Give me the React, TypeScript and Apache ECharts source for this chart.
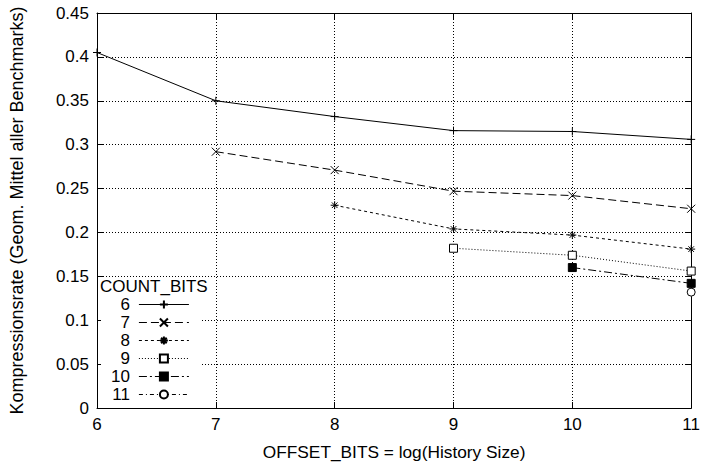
import React, { useEffect, useRef } from "react";
import * as echarts from "echarts";

const xTicks = [6, 7, 8, 9, 10, 11];
const seriesNames = ["6", "7", "8", "9", "10", "11"];
const s6 = [[6, 0.405], [7, 0.35], [8, 0.332], [9, 0.316], [10, 0.315], [11, 0.306]];
const s7 = [[7, 0.292], [8, 0.271], [9, 0.247], [10, 0.242], [11, 0.227]];
const s8 = [[8, 0.231], [9, 0.204], [10, 0.197], [11, 0.181]];
const s9 = [[9, 0.182], [10, 0.174], [11, 0.156]];
const s10 = [[10, 0.16], [11, 0.142]];
const s11 = [[11, 0.132]];
const allData = [s6, s7, s8, s9, s10, s11];

const symbols = [
  "path://M5,0L5,10M0,5L10,5",
  "path://M0,0L10,10M10,0L0,10",
  "path://M5,0L5,10M0,5L10,5M1.5,1.5L8.5,8.5M8.5,1.5L1.5,8.5",
  "path://M0,0L10,0L10,10L0,10Z",
  "rect",
  "path://M5,0A5,5 0 1 1 5,10A5,5 0 1 1 5,0Z",
];
const fills = ["#000", "#000", "#000", "#fff", "#000", "#fff"];
const dashes: any[] = ["solid", [8, 4], [3, 3], [1, 2], [8, 3, 2, 3], [4, 3, 1, 3]];

const FONT = "Liberation Sans";

export default function App() {
  const ref = useRef<HTMLDivElement>(null);
  useEffect(() => {
    const chart = echarts.init(ref.current!, null, { renderer: "svg" });
    const grid = { left: 96, right: 9, top: 13, bottom: 56 };
    const tickStyle = { show: true, inside: true, length: 6, lineStyle: { color: "#000", width: 1 } };
    const axisLine = { show: true, onZero: false, lineStyle: { color: "#000", width: 1 } };
    const split = { show: true, lineStyle: { color: "#000", width: 1, type: [1, 2] } };
    chart.setOption({
      animation: false,
      backgroundColor: "#fff",
      textStyle: { fontFamily: FONT },
      grid,
      xAxis: [
        {
          type: "value",
          min: 6,
          max: 11,
          interval: 1,
          position: "bottom",
          axisLine,
          axisTick: tickStyle,
          splitLine: split,
          axisLabel: { color: "#000", fontSize: 17, fontFamily: FONT, margin: 8, formatter: (v: number) => String(v) },
          name: "OFFSET_BITS = log(History Size)",
          nameLocation: "middle",
          nameGap: 35,
          nameTextStyle: { color: "#000", fontSize: 17.3, fontFamily: FONT },
        },
        {
          type: "value",
          min: 6,
          max: 11,
          interval: 1,
          position: "top",
          axisLine,
          axisTick: tickStyle,
          splitLine: { show: false },
          axisLabel: { show: false },
        },
      ],
      yAxis: [
        {
          type: "value",
          min: 0,
          max: 0.45,
          interval: 0.05,
          position: "left",
          axisLine,
          axisTick: tickStyle,
          splitLine: split,
          axisLabel: {
            color: "#000",
            fontSize: 17,
            fontFamily: FONT,
            margin: 8,
            formatter: (v: number) => String(+v.toFixed(2)),
          },
          name: "Kompressionsrate (Geom. Mittel aller Benchmarks)",
          nameLocation: "middle",
          nameGap: 71,
          nameTextStyle: { color: "#000", fontSize: 18, fontFamily: FONT },
        },
        {
          type: "value",
          min: 0,
          max: 0.45,
          interval: 0.05,
          position: "right",
          axisLine,
          axisTick: tickStyle,
          splitLine: { show: false },
          axisLabel: { show: false },
        },
      ],
      legend: {
        orient: "vertical",
        align: "right",
        left: 111,
        top: 296,
        padding: 0,
        itemWidth: 50,
        itemHeight: 10,
        itemGap: 1,
        data: seriesNames,
        lineStyle: { width: 1 },
        textStyle: { color: "#000", fontSize: 17, lineHeight: 17, fontFamily: FONT, padding: [0, 4, 0, 0] },
        z: 6,
      },
      graphic: [
        {
          type: "rect",
          z: 1,
          shape: { x: 101, y: 280, width: 99, height: 126 },
          style: { fill: "#fff" },
          silent: true,
        },
        {
          type: "text",
          z: 7,
          x: 100,
          y: 286,
          style: {
            text: "COUNT_BITS",
            fill: "#000",
            font: `17px "${FONT}"`,
            lineHeight: 16,
            textVerticalAlign: "middle",
            verticalAlign: "middle",
          },
        },
      ],
      series: allData.map((d, i) => ({
        name: seriesNames[i],
        type: "line",
        data: d,
        xAxisIndex: 0,
        yAxisIndex: 0,
        symbol: symbols[i],
        symbolSize: 8,
        showSymbol: true,
        clip: false,
        lineStyle: { color: "#000", width: 1, type: dashes[i] },
        itemStyle: { color: fills[i], borderColor: "#000", borderWidth: 1 },
        z: 3,
      })),
    });
    return () => chart.dispose();
  }, []);
  return (
    <div
      ref={ref}
      style={{ position: "fixed", left: 0, top: 0, width: 703, height: 465 }}
    />
  );
}
